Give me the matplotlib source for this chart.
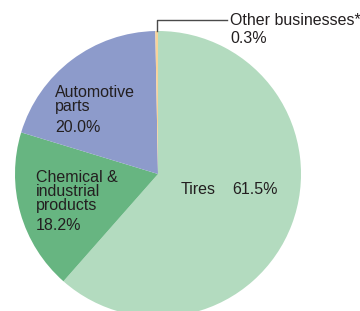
import numpy as np
import matplotlib.pyplot as plt

labels = ['Tires', 'Chemical & industrial products', 'Automotive parts', 'Other businesses*']
shares = [61.5, 18.2, 20.0, 0.3]
colors = ['#b3dbbf', '#67b581', '#8d9bcb', '#f7d39a']

W, H = 360, 311
cx, cy, r = 158, 174, 143

plt.rcParams['font.family'] = ['Liberation Sans', 'DejaVu Sans']
fig = plt.figure(figsize=(W / 100, H / 100), dpi=100)
fig.patch.set_facecolor('white')
ax = fig.add_axes([(cx - r) / W, (H - cy - r) / H, 2 * r / W, 2 * r / H])
ax.pie(shares, colors=colors, startangle=90, counterclock=False, radius=1,
       wedgeprops=dict(linewidth=0))
ax.set_xlim(-1, 1)
ax.set_ylim(-1, 1)
ax.set_aspect('auto')
ax.axis('off')

def px(x, y):
    return x / W, 1 - y / H

tc = '#231f20'
fs = 11.5

# y is the baseline of the last line
def txt(x, y, s, ls=1.0):
    fig.text(*px(x, y), s, fontsize=fs, color=tc, va='baseline', ha='left', linespacing=ls)

# leader for the tiny slice
ang = np.deg2rad(90 + shares[3] / 100 * 360 / 2)
x0, y0 = np.cos(ang), np.sin(ang)
ytop = (cy - 20) / r
xend = (227 - cx) / r
ax.plot([x0, x0, xend], [y0, ytop, ytop], color='#4a4a4a', lw=1, clip_on=False)

txt(230, 43, '%s\n%.1f%%' % (labels[3], shares[3]), ls=1.28)

txt(55, 111, 'Automotive\nparts', ls=0.9)
txt(55, 132, '%.1f%%' % shares[2])

txt(36, 210, 'Chemical &\nindustrial\nproducts', ls=0.9)
txt(36, 230, '%.1f%%' % shares[1])

txt(181, 194, labels[0])
txt(232, 194, '%.1f%%' % shares[0])

fig.savefig('out.png', dpi=100)
